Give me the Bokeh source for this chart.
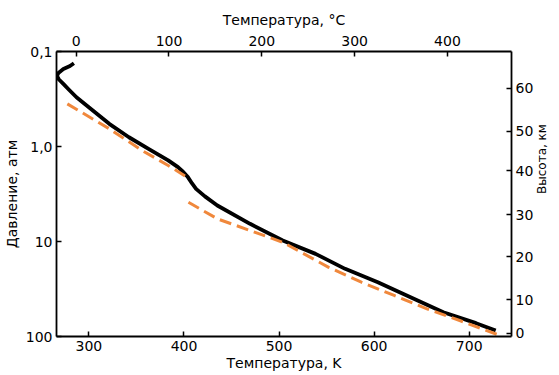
import math
from bokeh.plotting import figure
from bokeh.models import Range1d, LinearAxis, LogAxis, FixedTicker
from bokeh.embed import file_html
from bokeh.resources import INLINE

# --- data ---
black_T = [284.2, 280.1, 273.1, 267.9, 266.4, 268.5, 273.1, 279.3, 286.9, 304.1, 321.4,
           342.1, 362.7, 383.4, 393.7, 399.0, 404.1, 408.5, 412.7, 422.0, 435.1, 469.5,
           503.9, 538.4, 569.5, 603.9, 638.3, 672.8, 707.2, 727.9]
black_P = [0.133, 0.142, 0.153, 0.168, 0.181, 0.197, 0.219, 0.254, 0.303, 0.418, 0.577,
           0.799, 1.057, 1.40, 1.65, 1.84, 2.10, 2.45, 2.79, 3.35, 4.18, 6.51,
           9.76, 13.5, 19.4, 26.8, 38.6, 55.5, 72.4, 86.4]

orange1_T = [277.3, 321.4, 355.8, 383.4, 405.4]
orange1_P = [0.356, 0.651, 1.10, 1.585, 2.17]
orange2_T = [404.7, 435.1, 469.5, 503.9, 552.2, 586.6, 621.1, 655.6, 690.0, 729.7]
orange2_P = [3.86, 5.77, 7.66, 10.2, 18.7, 26.8, 37.0, 51.1, 67.9, 95.3]

kelvin_ticks = [300, 400, 500, 600, 700]
celsius_ticks = [0, 100, 200, 300, 400]
pressure_ticks = [0.1, 1.0, 10.0, 100.0]
pressure_labels = ["0,1", "1,0", "10", "100"]
alt_km = [0, 10, 20, 30, 40, 50, 60]
alt_pressure = [92.9, 40.8, 14.4, 5.2, 1.79, 0.695, 0.245]

FONT = "DejaVu Sans"

p = figure(width=559, height=375, output_backend="svg", toolbar_location=None,
           x_range=Range1d(265.9, 744.5), y_range=Range1d(100, 0.1),
           y_axis_type="log", min_border_left=53, min_border_right=43,
           min_border_top=51, min_border_bottom=39)
p.extra_x_ranges = {"C": Range1d(-21.2, 469.0)}
p.xgrid.visible = False
p.ygrid.visible = False
p.outline_line_color = None
p.background_fill_color = "white"
p.border_fill_color = "white"

p.line(black_T, black_P, line_color="black", line_width=3.8, line_join="round")
p.line(orange1_T, orange1_P, line_color="#F0883C", line_width=3, line_dash="12 6")
p.line(orange2_T, orange2_P, line_color="#F0883C", line_width=3, line_dash="12 6")

def style(ax, label, label_size="14px", std=5, lstd=4):
    ax.axis_label = label
    ax.axis_label_text_font = FONT
    ax.axis_label_text_font_size = label_size
    ax.axis_label_text_font_style = "normal"
    ax.axis_label_text_color = "black"
    ax.major_label_text_font = FONT
    ax.major_label_text_font_size = "14px"
    ax.major_label_text_color = "black"
    ax.axis_line_color = "black"
    ax.axis_line_width = 1.8
    ax.major_tick_line_color = "black"
    ax.major_tick_line_width = 1.5
    ax.major_tick_in = 5
    ax.major_tick_out = 0
    ax.minor_tick_line_color = None
    ax.major_label_standoff = std
    ax.axis_label_standoff = lstd

xb = p.xaxis[0]
xb.ticker = FixedTicker(ticks=kelvin_ticks)
style(xb, "Температура, K", std=4, lstd=1)

yl = p.yaxis[0]
yl.ticker = FixedTicker(ticks=pressure_ticks)
yl.major_label_overrides = {v: s for v, s in zip(pressure_ticks, pressure_labels)}
style(yl, "Давление, атм", std=4, lstd=3)

xt = LinearAxis(x_range_name="C", ticker=FixedTicker(ticks=celsius_ticks))
style(xt, "Температура, °C", std=6, lstd=5)
p.add_layout(xt, "above")

yr = LogAxis(ticker=FixedTicker(ticks=alt_pressure))
yr.major_label_overrides = {v: str(k) for v, k in zip(alt_pressure, alt_km)}
style(yr, "Высота, км", label_size="12px", std=4, lstd=6)
yr.axis_label_orientation = math.pi / 2
p.add_layout(yr, "right")

open("out.html", "w").write(file_html(p, INLINE))
